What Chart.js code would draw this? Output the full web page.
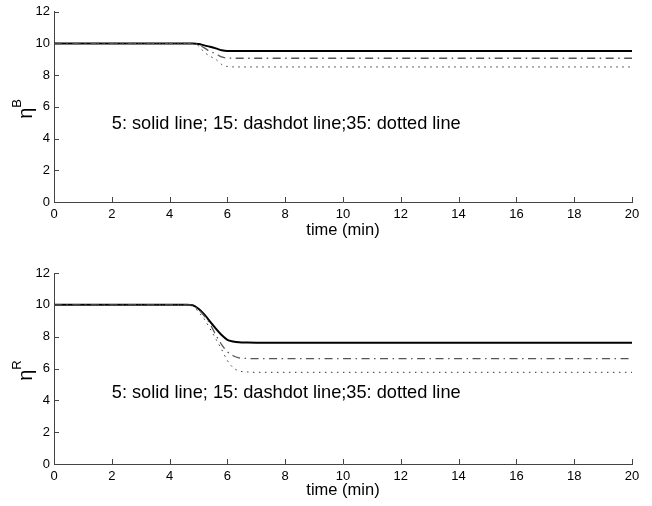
<!DOCTYPE html>
<html>
<head>
<meta charset="utf-8">
<script src="https://cdn.jsdelivr.net/npm/chart.js@4.4.1/dist/chart.umd.min.js"></script>
<style>
  body { margin: 0; background: #fff; }
  canvas { display: block; }
</style>
</head>
<body>
<canvas id="blue" width="652" height="253"></canvas>
<canvas id="red" width="652" height="253"></canvas>
<script>
// time axis samples (min)
const timeB = [0, 4.8, 5.0, 5.2, 5.4, 5.6, 5.8, 6.0, 6.4, 20]
const b5 = [10, 10, 9.97, 9.88, 9.79, 9.69, 9.58, 9.53, 9.52, 9.52]
const b15 = [10, 10, 9.92, 9.72, 9.5, 9.35, 9.15, 9.08, 9.07, 9.07]
const b35 = [10, 10, 9.85, 9.45, 9.2, 9.0, 8.68, 8.55, 8.52, 8.52]

const timeR = [0, 4.6, 4.8, 5.0, 5.2, 5.4, 5.6, 5.8, 6.0, 6.2, 6.4, 6.7, 7.0, 20]
const r5 = [10, 10, 9.97, 9.75, 9.4, 8.95, 8.5, 8.1, 7.8, 7.7, 7.65, 7.63, 7.62, 7.62]
const r15 = [10, 10, 9.95, 9.7, 9.3, 8.8, 8.1, 7.5, 7.05, 6.8, 6.67, 6.63, 6.62, 6.62]
const r35 = [10, 10, 9.95, 9.55, 9.1, 8.5, 7.85, 7.2, 6.5, 6.05, 5.85, 5.78, 5.76, 5.76]

const xTicks = [0, 2, 4, 6, 8, 10, 12, 14, 16, 18, 20]
const yTicks = [0, 2, 4, 6, 8, 10, 12]
const note = '5: solid line; 15: dashdot line;35: dotted line'
const FONT = "'Liberation Sans', Arial, Helvetica, sans-serif"

const pts = (t, v) => t.map((x, i) => ({ x: x, y: v[i] }))

// matlab style ticks pointing into the axes, plus the eta label and note
const matlabBits = {
	id: 'matlabBits',
	afterDraw(chart, args, opts) {
		const { ctx, chartArea } = chart
		const xs = chart.scales.x, ys = chart.scales.y
		ctx.save()
		ctx.strokeStyle = '#444'
		ctx.lineWidth = 1
		ctx.beginPath()
		xTicks.forEach(v => {
			const px = Math.round(xs.getPixelForValue(v)) + 0.5
			ctx.moveTo(px, chartArea.bottom)
			ctx.lineTo(px, chartArea.bottom - 5)
		})
		yTicks.forEach(v => {
			const py = Math.round(ys.getPixelForValue(v)) + 0.5
			ctx.moveTo(chartArea.left, py)
			ctx.lineTo(chartArea.left + 5, py)
		})
		ctx.stroke()

		// note text
		ctx.fillStyle = '#000'
		ctx.font = '18.2px ' + FONT
		ctx.textBaseline = 'middle'
		ctx.textAlign = 'left'
		ctx.fillText(note, xs.getPixelForValue(2), ys.getPixelForValue(opts.noteY))

		// eta with superscript, rotated
		ctx.translate(opts.labelX, (chartArea.top + chartArea.bottom) / 2 + 2)
		ctx.rotate(-Math.PI / 2)
		ctx.textAlign = 'left'
		ctx.textBaseline = 'alphabetic'
		ctx.font = '20px ' + FONT
		const w = ctx.measureText('\u03b7').width
		ctx.font = '13px ' + FONT
		const w2 = ctx.measureText(opts.sup).width
		const x0 = -(w + w2) / 2
		ctx.font = '20px ' + FONT
		ctx.fillText('\u03b7', x0, 0)
		ctx.font = '13px ' + FONT
		ctx.fillText(opts.sup, x0 + w, -11)
		ctx.restore()
	}
}

function makeChart(id, t, s5, s15, s35, cfg) {
	return new Chart(document.getElementById(id), {
		type: 'line',
		data: {
			datasets: [
				{ data: pts(t, s35), borderColor: '#333', borderWidth: 1, borderDash: [1.5, 4.5] },
				{ data: pts(t, s15), borderColor: '#555', borderWidth: 1.3, borderDash: [8, 4.5, 1.5, 4.5] },
				{ data: pts(t, s5), borderColor: '#000', borderWidth: 2 }
			]
		},
		options: {
			responsive: false,
			animation: false,
			events: [],
			layout: { padding: { left: 0, right: 20, top: cfg.top, bottom: 0 } },
			elements: {
				point: { radius: 0 },
				line: { cubicInterpolationMode: 'monotone', fill: false }
			},
			plugins: {
				legend: { display: false },
				tooltip: { enabled: false },
				matlabBits: { noteY: cfg.noteY, sup: cfg.sup, labelX: 32 }
			},
			scales: {
				x: {
					type: 'linear', min: 0, max: 20,
					afterFit: s => { s.height = cfg.xh },
					afterBuildTicks: s => { s.ticks = xTicks.map(v => ({ value: v })) },
					grid: { drawOnChartArea: false, drawTicks: false },
					border: { color: '#444', width: 1 },
					ticks: { padding: 5, color: '#000', font: { family: FONT, size: 13 }, maxRotation: 0 },
					title: {
						display: true, text: 'time (min)', color: '#000',
						font: { family: FONT, size: 16.5 },
						padding: { top: 0, bottom: cfg.titlePad }
					}
				},
				y: {
					min: 0, max: 12,
					afterFit: s => { s.width = 54 },
					afterBuildTicks: s => { s.ticks = yTicks.map(v => ({ value: v })) },
					grid: { drawOnChartArea: false, drawTicks: false },
					border: { color: '#444', width: 1 },
					ticks: { padding: 4, color: '#000', font: { family: FONT, size: 13 } }
				}
			}
		},
		plugins: [matlabBits]
	})
}

makeChart('blue', timeB, b5, b15, b35, { top: 10, xh: 51, titlePad: 13, noteY: 4.95, sup: 'B' })
makeChart('red', timeR, r5, r15, r35, { top: 20, xh: 42, titlePad: 6, noteY: 4.45, sup: 'R' })
</script>
</body>
</html>
